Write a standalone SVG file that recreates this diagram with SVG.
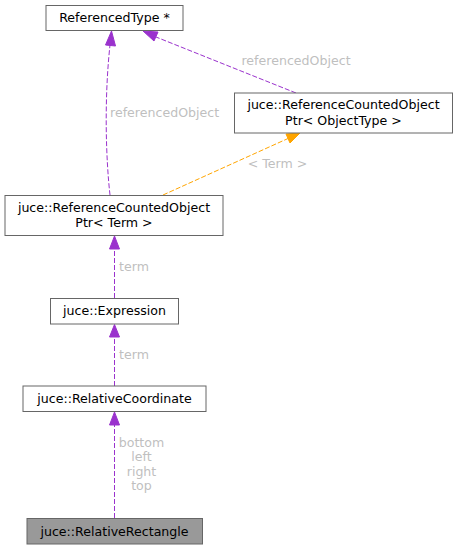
<svg xmlns="http://www.w3.org/2000/svg" width="459" height="549" viewBox="0 0 459 549">
<style>
.box{fill:#ffffff;stroke:#666666;stroke-width:1}
.cur{fill:#999999;stroke:#666666;stroke-width:1}
.nt{font-family:"DejaVu Sans",sans-serif;font-size:12.6px;fill:#000000;text-anchor:middle}
.lb{font-family:"DejaVu Sans",sans-serif;font-size:12.6px;fill:#bfbfbf}
.e{fill:none;stroke:#9a32cd;stroke-width:1;stroke-dasharray:5,2}
.eh{fill:#9a32cd;stroke:#9a32cd}
.o{fill:none;stroke:#ffa500;stroke-width:1;stroke-dasharray:5,2}
.oh{fill:#ffa500;stroke:#ffa500}
</style>
<g id="connectors">
<path class="e" d="M114.5,518 V425"/>
<polygon class="eh" points="109.5,425 114.5,412 119.5,425"/>
<path class="e" d="M114.5,386 V337"/>
<polygon class="eh" points="109.5,337 114.5,324.5 119.5,337"/>
<path class="e" d="M114.5,298 V249"/>
<polygon class="eh" points="109.5,249 114.5,236 119.5,249"/>
<path class="e" d="M110,195 C106,160 104,100 110,45"/>
<polygon class="eh" points="105.5,45 111.5,31 115.5,46"/>
<path class="e" d="M296,93 L156,37"/>
<polygon class="eh" points="154,41 143,31 158,32"/>
<path class="o" d="M163,195 L288,138.5"/>
<polygon class="oh" points="290,143 300,133 286,134"/>
<text class="lb" x="110" y="116.5">referencedObject</text>
<text class="lb" x="296" y="65" text-anchor="middle">referencedObject</text>
<text class="lb" x="277.5" y="167.5" text-anchor="middle">&lt; Term &gt;</text>
<text class="lb" x="119" y="270.5">term</text>
<text class="lb" x="119" y="358.5">term</text>
<text class="lb" x="141.5" y="446.5" text-anchor="middle">bottom</text>
<text class="lb" x="141.5" y="461" text-anchor="middle">left</text>
<text class="lb" x="141.5" y="475.5" text-anchor="middle">right</text>
<text class="lb" x="141.5" y="490" text-anchor="middle">top</text>
</g>
<g id="referencedType">
<rect class="box" x="46" y="5.5" width="137" height="25"/>
<text class="nt" x="114.5" y="22">ReferencedType *</text>
</g>
<g id="rcoObjectType">
<rect class="box" x="234.5" y="93" width="218" height="40"/>
<text class="nt" x="343.5" y="109">juce::ReferenceCountedObject</text>
<text class="nt" x="343.5" y="124.5">Ptr&lt; ObjectType &gt;</text>
</g>
<g id="rcoTerm">
<rect class="box" x="5" y="195.5" width="218" height="40"/>
<text class="nt" x="114" y="212">juce::ReferenceCountedObject</text>
<text class="nt" x="114" y="227">Ptr&lt; Term &gt;</text>
</g>
<g id="expression">
<rect class="box" x="50.5" y="298.5" width="128" height="25.5"/>
<text class="nt" x="114.5" y="315">juce::Expression</text>
</g>
<g id="relativeCoordinate">
<rect class="box" x="23" y="386" width="183" height="25.5"/>
<text class="nt" x="114.5" y="403">juce::RelativeCoordinate</text>
</g>
<g id="relativeRectangle">
<rect class="cur" x="27" y="518.5" width="175.5" height="25.5"/>
<text class="nt" x="114.5" y="535.5">juce::RelativeRectangle</text>
</g>
</svg>
